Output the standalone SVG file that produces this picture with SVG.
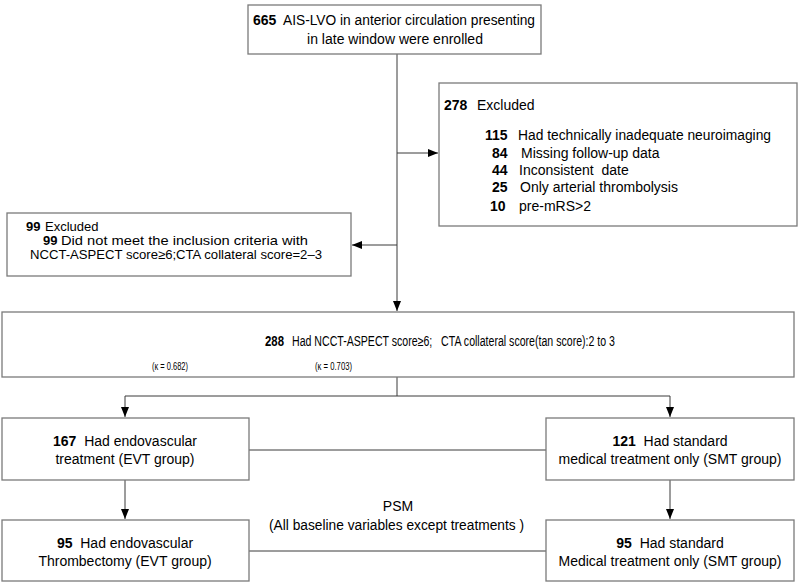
<svg xmlns="http://www.w3.org/2000/svg" width="800" height="584" viewBox="0 0 800 584">
<style>
.box{fill:#fff;stroke:#7a7a7a;stroke-width:1.3}
.ln{fill:none;stroke:#3a3a3a;stroke-width:1}
text{font-family:"Liberation Sans",Arial,sans-serif;font-size:14px;fill:#000;white-space:pre}
.b{font-weight:bold}
.m{text-anchor:middle}
.s{font-size:11.5px}
.c{font-size:13px}
</style>
<defs>
<marker id="ah" viewBox="0 0 10 10" refX="10" refY="5" markerWidth="10" markerHeight="10" markerUnits="userSpaceOnUse" orient="auto">
<path d="M0,1 L10,5 L0,9 z" fill="#000"/>
</marker>
</defs>
<rect width="800" height="584" fill="#fff"/>
<g id="connectors">
<line class="ln" x1="397" y1="54" x2="397" y2="311" marker-end="url(#ah)"/>
<line class="ln" x1="397" y1="153" x2="438" y2="153" marker-end="url(#ah)"/>
<line class="ln" x1="397" y1="245" x2="352" y2="245" marker-end="url(#ah)"/>
<polyline class="ln" points="397,377 397,396"/>
<line class="ln" x1="125" y1="396" x2="670" y2="396"/>
<line class="ln" x1="125" y1="396" x2="125" y2="417" marker-end="url(#ah)"/>
<line class="ln" x1="670" y1="396" x2="670" y2="417" marker-end="url(#ah)"/>
<line class="ln" x1="125" y1="480" x2="125" y2="519" marker-end="url(#ah)"/>
<line class="ln" x1="670" y1="480" x2="670" y2="519" marker-end="url(#ah)"/>
<line class="ln" x1="249" y1="450" x2="546" y2="450"/>
<line class="ln" x1="249" y1="551" x2="546" y2="551"/>
<text class="m" x="398" y="511">PSM</text>
<text x="269" y="530" textLength="255" lengthAdjust="spacingAndGlyphs">(All baseline variables except treatments )</text>
</g>
<g id="enrolled">
<rect class="box" x="248" y="5" width="293" height="49"/>
<text class="b" x="253" y="25">665</text>
<text x="283" y="25" textLength="252" lengthAdjust="spacingAndGlyphs">AIS-LVO in anterior circulation presenting</text>
<text class="m" x="395" y="44">in late window were enrolled</text>
</g>
<g id="excluded278">
<rect class="box" x="439" y="83" width="358" height="143"/>
<text class="b" x="444" y="110">278</text>
<text x="477" y="110">Excluded</text>
<text class="b" x="485" y="140">115</text><text x="518" y="140" textLength="253" lengthAdjust="spacingAndGlyphs">Had technically inadequate neuroimaging</text>
<text class="b" x="492" y="158">84</text><text x="521" y="158">Missing follow-up data</text>
<text class="b" x="492" y="175">44</text><text x="519" y="175">Inconsistent  date</text>
<text class="b" x="492" y="192">25</text><text x="520" y="192">Only arterial thrombolysis</text>
<text class="b" x="490" y="211">10</text><text x="519" y="211">pre-mRS&gt;2</text>
</g>
<g id="excluded99">
<rect class="box" x="7" y="213" width="344" height="63"/>
<text class="b c" x="26" y="231">99</text><text class="c" x="45" y="231">Excluded</text>
<text class="b c" x="43" y="245">99</text><text class="c" x="61" y="245" textLength="247" lengthAdjust="spacingAndGlyphs">Did not meet the inclusion criteria with</text>
<text class="c" x="30" y="259" textLength="292" lengthAdjust="spacingAndGlyphs">NCCT-ASPECT score≥6;CTA collateral score=2–3</text>
</g>
<g id="eligible288">
<rect class="box" x="2" y="312" width="792" height="65"/>
<text class="b" x="265" y="346" textLength="19" lengthAdjust="spacingAndGlyphs">288</text>
<text x="292" y="346" textLength="323" lengthAdjust="spacingAndGlyphs">Had NCCT-ASPECT score≥6;   CTA collateral score(tan score):2 to 3</text>
<text class="s" x="152" y="370" textLength="36" lengthAdjust="spacingAndGlyphs">(κ = 0.682)</text>
<text class="s" x="315" y="370" textLength="37" lengthAdjust="spacingAndGlyphs">(κ = 0.703)</text>
</g>
<g id="evt167">
<rect class="box" x="2" y="418" width="247" height="62"/>
<text class="m" x="125" y="446"><tspan class="b">167</tspan>  Had endovascular</text>
<text class="m" x="125" y="464">treatment (EVT group)</text>
</g>
<g id="smt121">
<rect class="box" x="546" y="418" width="248" height="62"/>
<text class="m" x="670" y="446"><tspan class="b">121</tspan>  Had standard</text>
<text class="m" x="670" y="464">medical treatment only (SMT group)</text>
</g>
<g id="evt95">
<rect class="box" x="2" y="520" width="247" height="61"/>
<text class="m" x="125" y="548"><tspan class="b">95</tspan>  Had endovascular</text>
<text class="m" x="125" y="566">Thrombectomy (EVT group)</text>
</g>
<g id="smt95">
<rect class="box" x="546" y="520" width="248" height="61"/>
<text class="m" x="670" y="548"><tspan class="b">95</tspan>  Had standard</text>
<text class="m" x="670" y="566">Medical treatment only (SMT group)</text>
</g>
</svg>
